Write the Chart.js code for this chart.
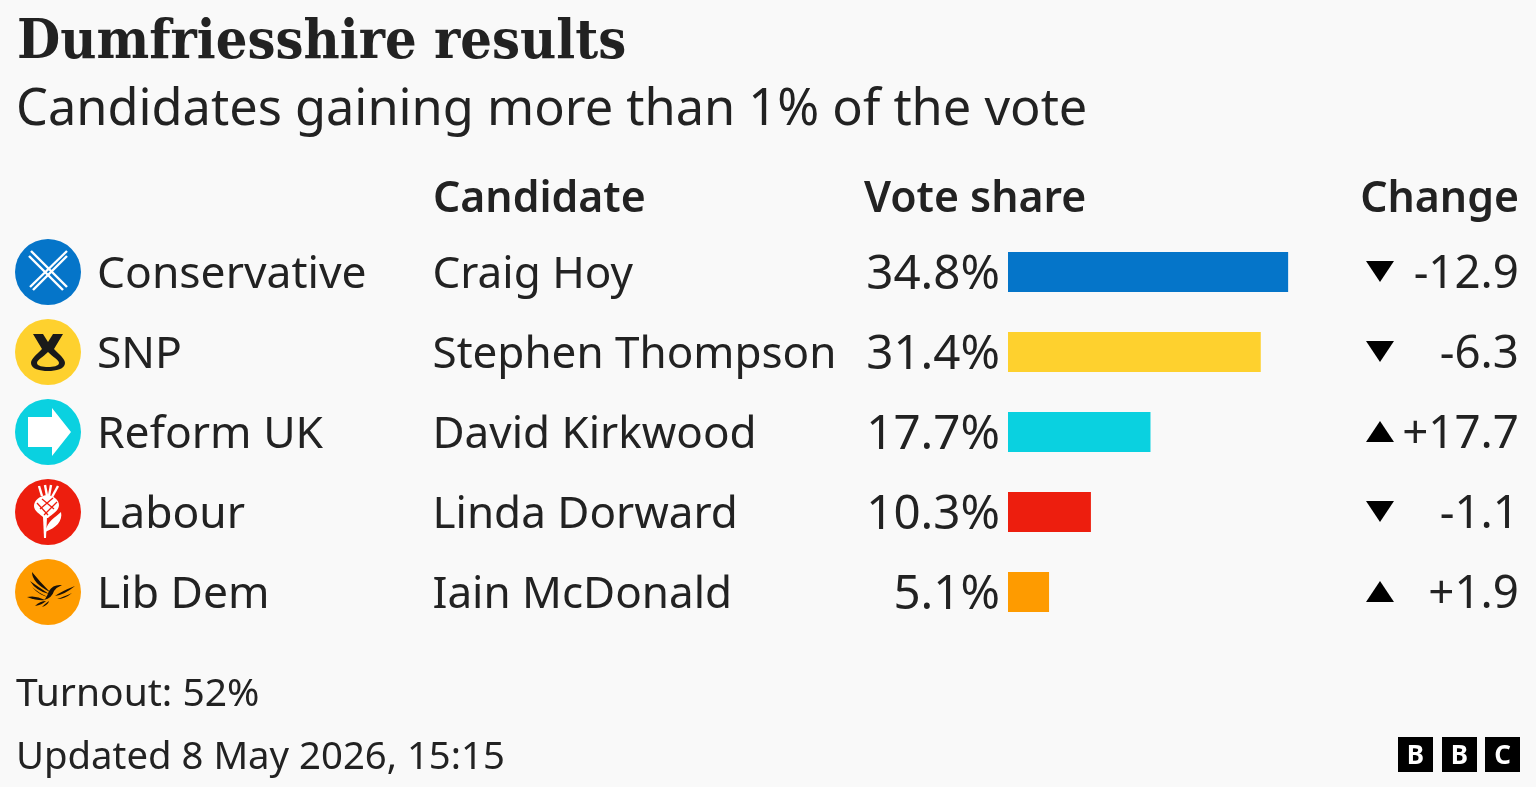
<!DOCTYPE html>
<html><head><meta charset="utf-8">
<script src="https://cdn.jsdelivr.net/npm/chart.js@4"></script>
<style>
html,body{margin:0;padding:0;background:#f9f9f9;overflow:hidden}
#wrap{position:relative;width:1536px;height:787px;background:#f9f9f9;color:#222;font-family:"Noto Sans",sans-serif}
canvas{position:absolute;left:0;top:0}
.t{position:absolute;white-space:nowrap;line-height:1;font-size:44px}
.c{transform:translateY(-50%)}
.bbc{position:absolute;top:737px;width:35px;height:35px;background:#000;color:#fff;font:700 26px/35px "Noto Sans",sans-serif;text-align:center}
</style></head><body>
<div id="wrap"><canvas id="c" width="1536" height="787"></canvas></div>
<script>
const parties=["Conservative","SNP","Reform UK","Labour","Lib Dem"];
const candidates=["Craig Hoy","Stephen Thompson","David Kirkwood","Linda Dorward","Iain McDonald"];
const voteShare=[34.8,31.4,17.7,10.3,5.1];
const change=[-12.9,-6.3,17.7,-1.1,1.9];
const colours=["#0575c9","#fed12e","#0ad1e0","#ed1e0e","#fe9b00"];
const title="Dumfriesshire results";
const subtitle="Candidates gaining more than 1% of the vote";
const headers=["Candidate","Vote share","Change"];
const turnout="Turnout: 52%";
const updated="Updated 8 May 2026, 15:15";

function lines(ctx,arr){arr.forEach(l=>{ctx.beginPath();ctx.moveTo(l[0],l[1]);ctx.lineTo(l[2],l[3]);ctx.stroke();});}
function icon(ctx,k,cx,cy){
  ctx.save();ctx.translate(cx,cy);
  ctx.fillStyle=colours[k];ctx.beginPath();ctx.arc(0,0,33,0,Math.PI*2);ctx.fill();
  ctx.lineCap="butt";ctx.lineJoin="round";
  if(k===0){
    ctx.strokeStyle="#fff";ctx.lineWidth=2.4;
    lines(ctx,[[-17,-21,19,15],[-19,-16,15,18],[19,-21,-18,15],[19,-16,-15,18]]);
  }else if(k===1){
    ctx.fillStyle="#1a1a1a";ctx.beginPath();
    ctx.moveTo(-15,-18);ctx.lineTo(-5,-18);ctx.lineTo(0,-10);ctx.lineTo(5,-18);ctx.lineTo(15,-18);ctx.lineTo(6,-3);
    ctx.bezierCurveTo(12,3,17,7,17,11);ctx.bezierCurveTo(17,17,8,19,0,19);ctx.bezierCurveTo(-8,19,-17,17,-17,11);ctx.bezierCurveTo(-17,7,-12,3,-6,-3);ctx.closePath();ctx.fill();
    ctx.fillStyle=colours[1];ctx.beginPath();
    ctx.moveTo(0,0);ctx.bezierCurveTo(5,5,11,8,11,11);ctx.bezierCurveTo(11,14,5,15,0,15);ctx.bezierCurveTo(-5,15,-11,14,-11,11);ctx.bezierCurveTo(-11,8,-5,5,0,0);ctx.closePath();ctx.fill();
  }else if(k===2){
    ctx.fillStyle="#fff";ctx.beginPath();
    ctx.moveTo(-20,-15);ctx.lineTo(4,-15);ctx.lineTo(4,-24);ctx.lineTo(23,0);ctx.lineTo(4,24);ctx.lineTo(4,15);ctx.lineTo(-20,15);ctx.closePath();ctx.fill();
  }else if(k===3){
    ctx.strokeStyle="#fff";ctx.fillStyle="#fff";ctx.lineWidth=2.4;
    lines(ctx,[[-9,-26,-6,-16],[-3,-27,-1,-16],[3,-27,1,-16],[10,-26,4,-15]]);
    ctx.beginPath();ctx.moveTo(-1,-17);ctx.bezierCurveTo(-9,-16,-14,-11,-14,-6);ctx.bezierCurveTo(-14,-1,-8,2,-4,6);ctx.lineTo(0,6);ctx.bezierCurveTo(4,2,11,-1,11,-7);ctx.bezierCurveTo(11,-12,6,-16,-1,-17);ctx.closePath();ctx.fill();
    ctx.strokeStyle=colours[3];ctx.lineWidth=1.3;
    lines(ctx,[[-11,-9,0,3],[9,-10,-4,3],[-6,-13,6,-3],[5,-14,-8,-3]]);
    ctx.fillStyle="#fff";ctx.beginPath();ctx.moveTo(-5,5);ctx.lineTo(-1,5);ctx.lineTo(-2,26);ctx.lineTo(-4,26);ctx.closePath();ctx.fill();
    ctx.beginPath();ctx.moveTo(-3,20);ctx.bezierCurveTo(0,8,7,6,13,0);ctx.bezierCurveTo(15,9,8,16,-3,20);ctx.closePath();ctx.fill();
  }else{
    ctx.fillStyle="#1a1208";
    const blob=a=>{ctx.beginPath();ctx.moveTo(a[0],a[1]);for(let i=2;i<a.length;i+=4)ctx.quadraticCurveTo(a[i],a[i+1],a[i+2],a[i+3]);ctx.closePath();ctx.fill();};
    blob([-16,-20,-16,-9,2,0,-8,-10,-16,-20]);
    blob([-18,-11,-12,-1,1,2,-8,-4,-18,-11]);
    blob([-16,-5,-9,3,0,5,-8,2,-16,-5]);
    blob([27,-6,14,-1,7,4,16,3,27,-6]);
    blob([24,1,15,5,9,7,17,7,24,1]);
    blob([14,-7,5,-8,1,-1,-2,7,-4,8,4,6,6,-1,9,-5,14,-7]);
    blob([-21,5,-12,3,-3,8,-10,9,-21,5]);
    blob([-13,14,-8,9,-2,9,-6,13,-13,14]);
    blob([-6,15,-2,11,1,9,0,13,-6,15]);
  }
  ctx.restore();
}
const drawDecor={id:"decor",afterDatasetsDraw(chart){
  const ctx=chart.ctx,y=chart.scales.y;
  parties.forEach((p,i)=>{
    const py=y.getPixelForValue(i);
    icon(ctx,i,48,py);
    ctx.fillStyle="#000";ctx.beginPath();
    if(change[i]<0){ctx.moveTo(1366,py-11);ctx.lineTo(1394,py-11);ctx.lineTo(1380,py+10);}
    else{ctx.moveTo(1366,py+10);ctx.lineTo(1394,py+10);ctx.lineTo(1380,py-11);}
    ctx.closePath();ctx.fill();
  });
}};
const chart=new Chart(document.getElementById("c"),{
  type:"bar",
  data:{labels:parties,datasets:[{data:voteShare,backgroundColor:colours,barPercentage:0.5,categoryPercentage:1,borderWidth:0}]},
  options:{indexAxis:"y",responsive:false,animation:false,devicePixelRatio:1,
    layout:{padding:{left:1008,right:206,top:232,bottom:155}},
    plugins:{legend:{display:false},tooltip:{enabled:false},title:{display:false}},
    scales:{x:{display:false,min:0,max:40},y:{display:false}}},
  plugins:[drawDecor]
});
const wrap=document.getElementById("wrap");
function add(txt,css,cls){const d=document.createElement("div");d.className="t "+(cls||"");d.textContent=txt;d.style.cssText=css;wrap.appendChild(d);return d;}
add(title,'left:17px;top:38px;transform-origin:0 50%;transform:translateY(-50%) scaleX(0.906);font:700 55px/1 "DejaVu Serif",serif;');
add(subtitle,'left:16px;top:106px;font-size:50.5px;','c');
add(headers[0],'left:433px;top:196px;font-weight:600;font-size:42.8px','c');
add(headers[1],'left:864px;top:196px;font-weight:600;font-size:42.8px','c');
add(headers[2],'right:17px;top:196px;font-weight:600;font-size:42.8px','c');
const ys=chart.scales.y;
parties.forEach((p,i)=>{
  const py=ys.getPixelForValue(i)-1;
  add(p,`left:97px;top:${py}px;font-size:44.4px`,'c');
  add(candidates[i],`left:432.5px;top:${py}px`,'c');
  add(voteShare[i].toFixed(1)+"%",`right:${1536-1000}px;top:${py}px;font-size:47.5px`,'c');
  add((change[i]>0?"+":"")+change[i].toFixed(1),`right:${1536-1519}px;top:${py}px;font-size:45.7px`,'c');
});
add(turnout,'left:16px;top:690px;font-size:39px','c');
add(updated,'left:16px;top:754px;font-size:38.3px','c');
["B","B","C"].forEach((l,i)=>{const d=document.createElement("div");d.className="bbc";d.textContent=l;d.style.left=[1398,1442,1485][i]+"px";wrap.appendChild(d);});
</script></body></html>
